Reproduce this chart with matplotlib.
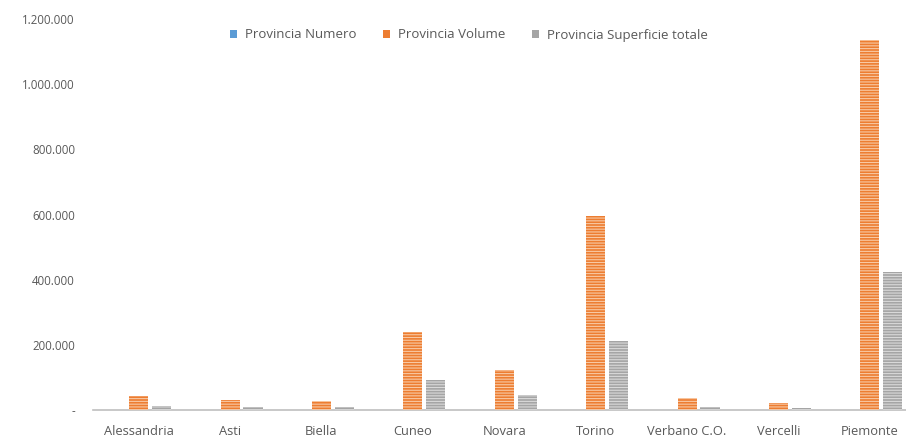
import matplotlib
matplotlib.use("Agg")
import matplotlib.pyplot as plt
import numpy as np
from matplotlib.ticker import FuncFormatter
from matplotlib.patches import Patch

categories = ["Alessandria", "Asti", "Biella", "Cuneo", "Novara", "Torino",
              "Verbano C.O.", "Vercelli", "Piemonte"]
numero = [187, 118, 74, 247, 87, 312, 74, 82, 1181]
volume = [43000, 31000, 28000, 239000, 122000, 594000, 37000, 22000, 1136000]
superficie = [12000, 8000, 10000, 92000, 46000, 211000, 10000, 6000, 423000]
series_names = ["Provincia Numero", "Provincia Volume", "Provincia Superficie totale"]

plt.rcParams["font.family"] = ["Open Sans", "DejaVu Sans"]
plt.rcParams["hatch.linewidth"] = 0.8

fig = plt.figure(figsize=(9.06, 4.37), dpi=100)
ax = fig.add_axes([93 / 906, 27 / 437, 822.6 / 906, 391 / 437])

x = np.arange(len(categories))
slot = 0.25
bw = 0.21
fills = ["#5B9BD5", "#ED7D31", "#A5A5A5"]
stripes = ["#9DC3E6", "#F8C9A4", "#D9D9D9"]
data = [numero, volume, superficie]
for i, (vals, fc, sc) in enumerate(zip(data, fills, stripes)):
    pos = x + (i - 1) * slot
    ax.bar(pos, vals, width=bw, color=fc, linewidth=0, zorder=2)
    ax.bar(pos, vals, width=bw, facecolor="none", edgecolor=sc,
           hatch="------", linewidth=0, zorder=3)

ax.set_xlim(-0.5, len(categories) - 0.5)
ax.set_ylim(0, 1200000)
ax.set_yticks(np.arange(0, 1200001, 200000))


def it_fmt(v, _):
    if v == 0:
        return "-"
    return f"{int(v):,}".replace(",", ".")


ax.yaxis.set_major_formatter(FuncFormatter(it_fmt))
ax.set_xticks(x)
ax.set_xticklabels(categories)
ax.tick_params(axis="both", length=0, colors="#595959")
ax.tick_params(axis="y", pad=13, labelsize=8.3)
ax.tick_params(axis="x", pad=11, labelsize=9.3)
for s in ["top", "right", "left"]:
    ax.spines[s].set_visible(False)
ax.spines["bottom"].set_color("#BFBFBF")
ax.spines["bottom"].set_linewidth(1.2)

handles = [Patch(facecolor=c, edgecolor="none") for c in fills]
leg = fig.legend(handles, series_names, loc="center", bbox_to_anchor=(469 / 906, 1 - 35 / 437),
                 ncol=3, frameon=False, fontsize=9.5, handlelength=0.5, handleheight=0.5,
                 handletextpad=0.6, columnspacing=2.05)
for t in leg.get_texts():
    t.set_color("#595959")

fig.savefig("out.png", dpi=100)
